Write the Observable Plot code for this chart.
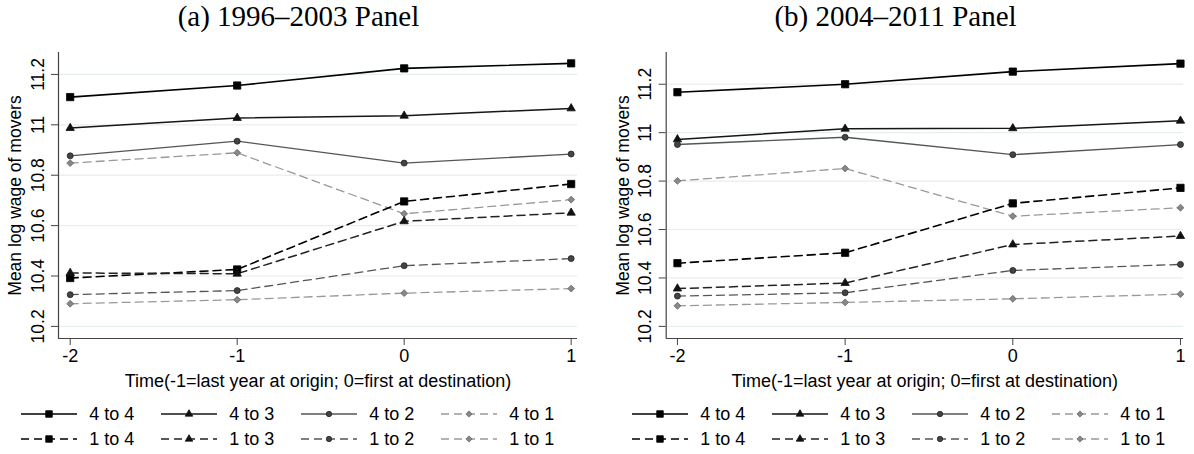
<!DOCTYPE html>
<html><head><meta charset="utf-8">
<script src="https://cdn.jsdelivr.net/npm/d3@7"></script>
<script src="https://cdn.jsdelivr.net/npm/@observablehq/plot@0.6"></script>
<style>
body{margin:0;background:#fff;}
#fig{position:relative;width:1194px;height:454px;overflow:hidden;font-family:"Liberation Sans",Arial,sans-serif;background:#fff;}
.title{position:absolute;top:0px;width:597px;text-align:center;font-family:"Liberation Serif","Times New Roman",serif;font-size:29px;line-height:1.12;color:#000;white-space:nowrap;}
.panel{position:absolute;top:40px;}
.leg{position:absolute;height:20px;display:flex;align-items:center;font-size:18px;color:#000;white-space:nowrap;}
.leg svg{display:block;}
</style></head><body><div id="fig"></div>
<script>
// ---- data ----
const times = [-2, -1, 0, 1];
const seriesNames = ["4 to 4", "4 to 3", "4 to 2", "4 to 1", "1 to 4", "1 to 3", "1 to 2", "1 to 1"];
const yTicks = [10.2, 10.4, 10.6, 10.8, 11, 11.2];
const titles = ["(a) 1996\u20132003 Panel", "(b) 2004\u20132011 Panel"];
const yLabel = "Mean log wage of movers";
const xLabel = "Time(-1=last year at origin; 0=first at destination)";

// panel (a) 1996-2003
const a44 = [11.110, 11.156, 11.224, 11.244];
const a43 = [10.987, 11.027, 11.036, 11.065];
const a42 = [10.877, 10.935, 10.848, 10.884];
const a41 = [10.848, 10.889, 10.647, 10.703];
const a14 = [10.392, 10.426, 10.696, 10.765];
const a13 = [10.412, 10.409, 10.617, 10.651];
const a12 = [10.326, 10.342, 10.441, 10.469];
const a11 = [10.290, 10.306, 10.332, 10.350];
// panel (b) 2004-2011
const b44 = [11.167, 11.200, 11.252, 11.285];
const b43 = [10.972, 11.016, 11.018, 11.049];
const b42 = [10.951, 10.981, 10.909, 10.951];
const b41 = [10.801, 10.852, 10.655, 10.690];
const b14 = [10.461, 10.504, 10.708, 10.772];
const b13 = [10.356, 10.379, 10.538, 10.573];
const b12 = [10.325, 10.339, 10.431, 10.456];
const b11 = [10.285, 10.299, 10.314, 10.333];

const panelA = [a44, a43, a42, a41, a14, a13, a12, a11];
const panelB = [b44, b43, b42, b41, b14, b13, b12, b11];

// ---- styles ----
const DASH = "8,5";
const styles = [
  {stroke: "#000", dash: null, symbol: "square",   fill: "#000", mstroke: "#000", r: 4.1, w: 1.6},
  {stroke: "#161616", dash: null, symbol: "triangle", fill: "#111", mstroke: "#111", r: 3.1, w: 1.5},
  {stroke: "#555", dash: null, symbol: "circle",   fill: "#444", mstroke: "#222", r: 3.0, w: 1.3},
  {stroke: "#999", dash: DASH, symbol: "diamond2", fill: "#888", mstroke: "#666", r: 3.1, w: 1.3},
  {stroke: "#000", dash: DASH, symbol: "square",   fill: "#000", mstroke: "#000", r: 4.1, w: 1.6},
  {stroke: "#222", dash: DASH, symbol: "triangle", fill: "#111", mstroke: "#111", r: 3.1, w: 1.5},
  {stroke: "#555", dash: DASH, symbol: "circle",   fill: "#444", mstroke: "#222", r: 3.0, w: 1.3},
  {stroke: "#999", dash: DASH, symbol: "diamond2", fill: "#888", mstroke: "#666", r: 3.1, w: 1.3}
];

const panels = [
  {vals: panelA, left: 0,   width: 597, mL: 58,   mR: 20, xDom: [-2.070, 1.038], yDom: [10.152, 11.287]},
  {vals: panelB, left: 597, width: 597, mL: 68.7, mR: 11, xDom: [-2.067, 1.018], yDom: [10.150, 11.331]}
];

const fig = document.getElementById("fig");

panels.forEach((p, pi) => {
  const t = document.createElement("div");
  t.className = "title";
  t.style.left = p.left + "px";
  t.textContent = titles[pi];
  fig.appendChild(t);

  const marks = [
    Plot.gridY(yTicks, {stroke: "#e6eef1", strokeOpacity: 1, strokeWidth: 1.2}),
    Plot.ruleY([p.yDom[0]], {stroke: "#444", strokeWidth: 1.2}),
    Plot.ruleX([p.xDom[0]], {stroke: "#444", strokeWidth: 1.2}),
    Plot.axisY(yTicks, {anchor: "left", tickSize: 7, tickPadding: 8, tickRotate: -90,
      tickFormat: d => String(d), fontSize: 17.5, stroke: "#444", fill: "#000",
      label: yLabel, labelAnchor: "center", labelOffset: 50, labelArrow: "none"}),
    Plot.axisX(times, {anchor: "bottom", tickSize: 7, tickPadding: 4,
      tickFormat: d => String(d), fontSize: 18, stroke: "#444", fill: "#000",
      label: xLabel, labelAnchor: "center", labelOffset: 48, labelArrow: "none"})
  ];
  seriesNames.forEach((name, si) => {
    const s = styles[si];
    const data = times.map((t, j) => ({t, v: p.vals[si][j]}));
    marks.push(Plot.line(data, {x: "t", y: "v", stroke: s.stroke, strokeWidth: s.w,
      strokeDasharray: s.dash, strokeLinejoin: "round"}));
  });
  seriesNames.forEach((name, si) => {
    const s = styles[si];
    const data = times.map((t, j) => ({t, v: p.vals[si][j]}));
    marks.push(Plot.dot(data, {x: "t", y: "v", symbol: () => s.symbol, r: s.r,
      fill: s.fill, stroke: s.mstroke, strokeWidth: 0.8}));
  });

  const chart = Plot.plot({
    width: p.width, height: 350,
    marginLeft: p.mL, marginRight: p.mR, marginTop: 12, marginBottom: 52,
    style: {fontFamily: "'Liberation Sans', Arial, sans-serif", background: "transparent", overflow: "visible"},
    x: {domain: p.xDom},
    y: {domain: p.yDom},
    symbol: {type: "identity"},
    marks
  });
  chart.classList.add("panel");
  chart.style.left = p.left + "px";
  fig.appendChild(chart);

  // legend
  const rows = [414, 439];
  seriesNames.forEach((name, si) => {
    const s = styles[si];
    const row = Math.floor(si / 4), col = si % 4;
    const x0 = p.left + (pi === 0 ? 20.7 : 34.7) + col * 140;
    const item = document.createElement("div");
    item.className = "leg";
    item.style.left = x0 + "px";
    item.style.top = (rows[row] - 10) + "px";
    const sym = {square: d3.symbolSquare, triangle: d3.symbolTriangle, circle: d3.symbolCircle, diamond2: d3.symbolDiamond2}[s.symbol];
    const rr = s.r * 0.9;
    const path = d3.symbol(sym, rr * rr * Math.PI)();
    item.innerHTML = `<svg width="68" height="20"><line x1="0" x2="56" y1="10" y2="10" stroke="${s.stroke}" stroke-width="${s.w}" ${s.dash ? `stroke-dasharray="${s.dash}"` : ""}/><path transform="translate(28,10)" d="${path}" fill="${s.fill}" stroke="${s.mstroke}" stroke-width="0.8"/></svg><span style="margin-left:0.5px">${name}</span>`;
    fig.appendChild(item);
  });
});
</script></body></html>
